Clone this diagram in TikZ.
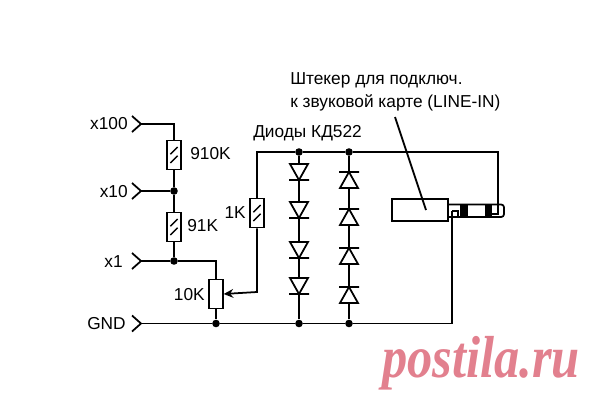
\documentclass[tikz,border=0pt]{standalone}
\usepackage{fontspec}
\setmainfont{Liberation Sans}
\newfontfamily\wmfont{Liberation Serif}
\usetikzlibrary{arrows.meta}
\definecolor{wmpink}{HTML}{E2808E}
\tikzset{>={Stealth[length=2.4mm,width=2.2mm,inset=0.8mm]}}
\tikzset{
    wire/.style={line width=1.25pt},
    lbl/.style={inner sep=0pt, font=\fontsize{12.3}{14}\selectfont},
    res/.style={draw, line width=1.25pt, fill=white, minimum width=3.4mm, minimum height=7.3mm, inner sep=0pt,
        path picture={
            \draw[line width=1pt] ([shift={(-0.9mm,-2mm)}]path picture bounding box.center) -- ([shift={(0.9mm,-0.2mm)}]path picture bounding box.center);
            \draw[line width=1pt] ([shift={(-0.9mm,0.2mm)}]path picture bounding box.center) -- ([shift={(0.9mm,2mm)}]path picture bounding box.center);
        }},
    pot/.style={draw, line width=1.25pt, fill=white, minimum width=3.4mm, minimum height=7.3mm, inner sep=0pt},
    dot/.style={circle, fill=black, inner sep=0pt, minimum size=1.9mm},
}
\begin{document}
\begin{tikzpicture}[x=0.25mm, y=-0.25mm]
    \useasboundingbox (0,0) rectangle (600,400);
    % inputs
    \coordinate (x100) at (141,124);
    \coordinate (x10) at (141,191);
    \coordinate (x1) at (141,261);
    \coordinate (gnd) at (141,323.5);
    \foreach \pin in {x100,x10,x1,gnd}
        \draw[wire] (\pin) ++(-9,-8) -- (\pin) -- ++(-9,8);
    \node[lbl, anchor=east] (lx100) at (128,124) {x100};
    \node[lbl, anchor=east] (lx10) at (128,192) {x10};
    \node[lbl, anchor=east] (lx1) at (123,262) {x1};
    \node[lbl, anchor=east] (lgnd) at (126,324) {GND};
    % divider
    \node[res] (r910) at (174,155) {};
    \node[res] (r91) at (174,227) {};
    \node[pot] (r10) at (216,294) {};
    \node[res] (r1) at (257,213) {};
    \node[lbl, anchor=west] (l910) at (190,154) {910K};
    \node[lbl, anchor=west] (l91) at (187,226) {91K};
    \node[lbl, anchor=east] (l10) at (205,295) {10K};
    \node[lbl, anchor=east] (l1) at (246,213) {1K};
    \node[dot] (j10) at (174,191) {};
    \node[dot] (j1) at (174,261) {};
    \node[dot] (jg) at (216,323.5) {};
    \node[dot] (ja) at (299,152) {};
    \node[dot] (jb) at (349,152) {};
    \node[dot] (jc) at (299,323.5) {};
    \node[dot] (jd) at (349,323.5) {};
    \coordinate (wip) at (257,292);
    \coordinate (tip) at (498,208);
    \coordinate (ring) at (452,211);
    \draw[wire] (x100) -| (r910.north);
    \draw[wire] (r910) -- (j10) -- (r91) -- (j1);
    \draw[wire] (x10) -- (j10);
    \draw[wire] (x1) -- (j1) -| (r10.north);
    \draw[wire] (r10) -- (jg);
    \draw[wire] (gnd) -- (jg) -- (jc) -- (jd) -- (452,323.5) -- (ring);
    \draw[wire, ->] (r1.south) |- (wip) -- (r10.east);
    \draw[wire] (r1.north) |- (ja);
    \draw[wire] (ja) -- (jb) -- (498,152) -- (tip);
    \draw[wire] (ja) -- (jc);
    \draw[wire] (jb) -- (jd);
    % diodes
    \foreach \y in {164,202,242,278}
        \draw[wire, fill=white, line join=miter] (290,\y) -- (308,\y) -- (299,\y+16) -- cycle
            (289,\y+16) -- (309,\y+16);
    \foreach \y in {172,209,248,287}
        \draw[wire, fill=white, line join=miter] (340,\y+16) -- (358,\y+16) -- (349,\y) -- cycle
            (339,\y) -- (359,\y);
    \node[lbl, anchor=west] (ldiode) at (253,133) {Диоды КД522};
    % plug
    \node[draw, line width=1.25pt, fill=white, minimum width=14mm, minimum height=5.5mm, inner sep=0pt] (body) at (420,210) {};
    \draw[wire, rounded corners=2pt] (body.east |- 0,204.5) -- (504,204.5) -- (504,217) -- (448,217);
    \fill (460,204.5) rectangle (468,217);
    \fill (485,204.5) rectangle (492,217);
    \draw[wire] (ring) -- (458,211) -- (458,216);
    \draw[wire] (492,214) -- (498,214) -- (tip);
    \node[lbl, anchor=north west, align=left, font=\fontsize{12.3}{16.4}\selectfont] (lplug) at (290,72) {Штекер для подключ.\\к звуковой карте (LINE-IN)};
    \coordinate (lead) at (395,117);
    \draw[wire] (lead) -- (426,210);
    % watermark
    \node[anchor=base west, inner sep=0pt, text=wmpink, yscale=1.14, xscale=0.97, transform shape, font=\wmfont\bfseries\itshape\fontsize{37}{40}\selectfont] (wm) at (382,377) {postila.ru};
\end{tikzpicture}
\end{document}
